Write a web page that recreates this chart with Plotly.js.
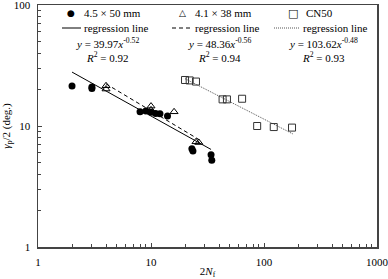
<!DOCTYPE html>
<html>
<head>
<meta charset="utf-8">
<script src="https://cdn.plot.ly/plotly-3.0.1.min.js"></script>
<style>html,body{margin:0;padding:0;background:#fff;}#chart{width:388px;height:279px;}</style>
</head>
<body>
<div id="chart"></div>
<script>
// Data
const seriesNames = ["4.5 × 50 mm", "4.1 × 38 mm", "CN50"];
const x45 = [2, 3, 3, 8, 9, 10, 11, 12, 14, 23, 23.5, 34, 34.5];
const y45 = [21.4, 21, 20.4, 13.1, 13.3, 13.0, 12.7, 12.6, 12.1, 6.5, 6.2, 5.8, 5.2];
const x41 = [4, 4, 10, 10, 16, 25, 26.5];
const y41 = [21.5, 20.2, 14.6, 13.6, 13.1, 7.4, 7.3];
const xCN = [20, 22, 25, 43, 47, 64, 87, 122, 177];
const yCN = [24.0, 23.8, 23.3, 16.6, 16.6, 16.8, 10.0, 9.8, 9.7];
// regression line end points
const reg45x = [2, 34];   const reg45y = [27.9, 6.4];
const reg41x = [4, 28];   const reg41y = [22.3, 7.5];
const regCNx = [20, 180]; const regCNy = [24.6, 8.6];
const eqTexts = ["<i>y</i> = 39.97<i>x</i><sup>-0.52</sup>", "<i>y</i> = 48.36<i>x</i><sup>-0.56</sup>", "<i>y</i> = 103.62<i>x</i><sup>-0.48</sup>"];
const r2Texts = ["<i>R</i><sup>2</sup> = 0.92", "<i>R</i><sup>2</sup> = 0.94", "<i>R</i><sup>2</sup> = 0.93"];
const xTickVals = [1, 10, 100, 1000];
const yTickVals = [1, 10, 100];

const FONT = "Liberation Serif";
const L = 38, R = 377, T = 5, B = 247;
const px = v => (v - L) / (R - L);
const py = v => (B - v) / (B - T);

const traces = [
  {x: reg45x, y: reg45y, mode: 'lines', line: {color: '#000', width: 1}, hoverinfo: 'skip'},
  {x: reg41x, y: reg41y, mode: 'lines', line: {color: '#000', width: 1, dash: '4px,3px'}, hoverinfo: 'skip'},
  {x: regCNx, y: regCNy, mode: 'lines', line: {color: '#555', width: 1, dash: '1px,1px'}, hoverinfo: 'skip'},
  {x: x45, y: y45, mode: 'markers', name: seriesNames[0], marker: {symbol: 'circle', size: 7, color: '#000'}},
  {x: x41, y: y41, mode: 'markers', name: seriesNames[1], marker: {symbol: 'triangle-up-open', size: 7, color: '#000', line: {width: 1}}},
  {x: xCN, y: yCN, mode: 'markers', name: seriesNames[2], marker: {symbol: 'square-open', size: 7, color: '#333', line: {width: 1}}}
];

const annotations = [];
const shapes = [];
const col = [{m: 71, t: 82, ls: 62, le: 81, lt: 82, c: 107}, {m: 182, t: 193, ls: 172, le: 192, lt: 193, c: 219}, {m: 293, t: 304, ls: 274, le: 300, lt: 301, c: 323}];
const syms = ["●", "△", "□"];
const symSize = [9, 9, 11];
for (let i = 0; i < 3; i++) {
  annotations.push({xref: 'paper', yref: 'paper', x: px(col[i].m), y: py(13), xanchor: 'center', yanchor: 'middle', text: syms[i], showarrow: false, font: {family: 'DejaVu Sans', size: symSize[i], color: '#000'}});
  annotations.push({xref: 'paper', yref: 'paper', x: px(col[i].t), y: py(13), xanchor: 'left', yanchor: 'middle', text: seriesNames[i], showarrow: false, font: {family: FONT, size: 11, color: '#000'}});
  annotations.push({xref: 'paper', yref: 'paper', x: px(col[i].lt), y: py(28), xanchor: 'left', yanchor: 'middle', text: 'regression line', showarrow: false, font: {family: FONT, size: 11, color: '#000'}});
  annotations.push({xref: 'paper', yref: 'paper', x: px(col[i].c), y: py(43), xanchor: 'center', yanchor: 'middle', text: eqTexts[i], showarrow: false, font: {family: FONT, size: 11, color: '#000'}});
  annotations.push({xref: 'paper', yref: 'paper', x: px(col[i].c), y: py(57), xanchor: 'center', yanchor: 'middle', text: r2Texts[i], showarrow: false, font: {family: FONT, size: 11, color: '#000'}});
  shapes.push({type: 'line', xref: 'paper', yref: 'paper', x0: px(col[i].ls), x1: px(col[i].le), y0: py(28), y1: py(28), line: {color: i === 2 ? '#555' : '#000', width: 1, dash: i === 0 ? 'solid' : (i === 1 ? '4px,3px' : '1px,1px')}});
}

const axisCommon = {
  type: 'log', showgrid: false, zeroline: false, showline: true, linecolor: '#444', linewidth: 1.5, mirror: true,
  ticks: 'inside', ticklen: 4, tickwidth: 1, tickcolor: '#444',
  tickfont: {family: FONT, size: 11, color: '#000'},
  minor: {ticks: 'inside', ticklen: 3, tickwidth: 1, tickcolor: '#444', dtick: 'D1', showgrid: false},
  ticklabelstandoff: 4, ticklabeloverflow: 'allow', automargin: false
};

const layout = {
  width: 388, height: 279,
  margin: {l: L, r: 388 - R, t: T, b: 279 - B},
  paper_bgcolor: '#fff', plot_bgcolor: '#fff',
  showlegend: false,
  xaxis: Object.assign({}, axisCommon, {range: [0, 3], tickmode: 'array', tickvals: xTickVals, ticktext: xTickVals.map(String),
    title: {text: '2<i>N</i><sub>f</sub>', font: {family: FONT, size: 11, color: '#000'}, standoff: 4}}),
  yaxis: Object.assign({}, axisCommon, {range: [0, 2], tickmode: 'array', tickvals: yTickVals, ticktext: yTickVals.map(String),
    title: {text: '<i>γ</i><sub>p</sub>/2 (deg.)', font: {family: FONT, size: 11, color: '#000'}, standoff: 2}}),
  annotations: annotations,
  shapes: shapes
};

Plotly.newPlot('chart', traces, layout, {displayModeBar: false, staticPlot: true});
</script>
</body>
</html>
